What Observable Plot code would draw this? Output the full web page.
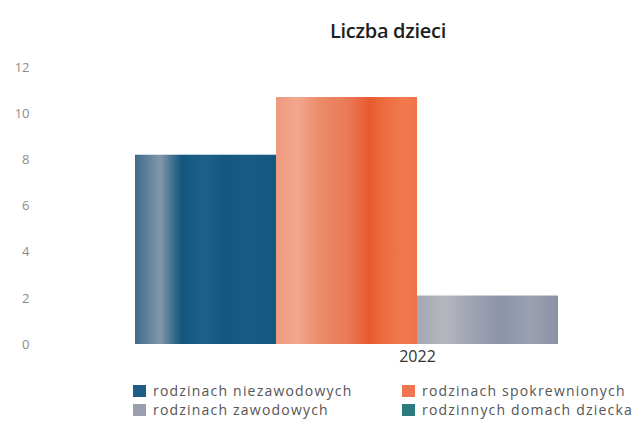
<!DOCTYPE html>
<html>
<head>
<meta charset="utf-8">
<script src="https://cdn.jsdelivr.net/npm/d3@7"></script>
<script src="https://cdn.jsdelivr.net/npm/@observablehq/plot@0.6"></script>
<style>
  html, body { margin: 0; padding: 0; background: #fff; overflow: hidden; }
  #wrap { position: relative; width: 641px; height: 422px; font-family: "Open Sans", sans-serif; }
  #title { position: absolute; left: 330px; top: 17px; font-size: 20px; font-weight: 600; color: #1e1e1e; letter-spacing: -0.3px; line-height: 28px; }
  #chart { position: absolute; left: 0; top: 50px; }
  #legend { position: absolute; left: 0; top: 382px; width: 641px; height: 40px; }
  .item { position: absolute; font-size: 14px; color: #555; white-space: nowrap; line-height: 17px; letter-spacing: 1.2px; }
  .sw { display: inline-block; width: 13px; height: 12px; vertical-align: -1px; margin-right: 7px; }
  #chart g[aria-label="y-axis tick label"] text { fill: #8c8c8c; }
  #chart g[aria-label="fx-axis tick label"] text { fill: #333; }
</style>
</head>
<body>
<div id="wrap">
  <div id="title">Liczba dzieci</div>
  <div id="chart"></div>
  <div id="legend"></div>
</div>
<script>
const years = ["2022"];
const series = ["rodzinach niezawodowych", "rodzinach spokrewnionych", "rodzinach zawodowych", "rodzinnych domach dziecka"];
const values = [8.2, 10.7, 2.1, 0];
const colors = ["#1d5d87", "#ef7450", "#9a9fae", "#2a7a80"];
const yTicks = [0, 2, 4, 6, 8, 10, 12];
const legendOrder = [0, 1, 2, 3];

const gradients = [
  [[0, "#3d6a8a"], [0.08, "#5b7f99"], [0.18, "#8497a8"], [0.27, "#3e6f8f"], [0.33, "#13577f"], [0.5, "#1c6189"], [0.62, "#12587f"], [0.8, "#175c84"], [1, "#14587f"]],
  [[0, "#ee9a80"], [0.15, "#f2a78c"], [0.3, "#ec8c6c"], [0.5, "#ea7a58"], [0.66, "#e85a30"], [0.75, "#ec6a3c"], [0.9, "#f07a4e"], [1, "#ee7448"]],
  [[0, "#a4a8b2"], [0.2, "#b4b7be"], [0.4, "#9ea3b2"], [0.6, "#8d94ab"], [0.8, "#9ba1b1"], [1, "#8b91a7"]],
  [[0, "#2a7b80"], [1, "#2a7b80"]]
];

const data = series.map((s, i) => ({year: years[0], series: s, value: values[i]}));

const chart = Plot.plot({
  width: 641,
  height: 320,
  marginTop: 17,
  marginBottom: 26,
  marginLeft: 135,
  marginRight: 0,
  style: {fontFamily: "Open Sans, sans-serif", fontSize: "13px", background: "transparent", overflow: "visible"},
  fx: {domain: years, range: [135, 699], padding: 0, label: null, axis: "bottom", tickSize: 0, tickPadding: 6},
  x: {domain: series, padding: 0, axis: null},
  y: {domain: [0, 12], ticks: yTicks, tickSize: 0, tickPadding: 106, label: null},
  color: {domain: series, range: series.map((s, i) => `url(#grad${i})`)},
  marks: [
    Plot.barY(data, {fx: "year", x: "series", y: "value", fill: "series"})
  ]
});

// gradient definitions for the bar shading
const ns = "http://www.w3.org/2000/svg";
const defs = document.createElementNS(ns, "defs");
gradients.forEach((stops, i) => {
  const g = document.createElementNS(ns, "linearGradient");
  g.setAttribute("id", `grad${i}`);
  g.setAttribute("x1", "0"); g.setAttribute("x2", "1");
  g.setAttribute("y1", "0"); g.setAttribute("y2", "0");
  stops.forEach(([o, c]) => {
    const s = document.createElementNS(ns, "stop");
    s.setAttribute("offset", o);
    s.setAttribute("stop-color", c);
    g.appendChild(s);
  });
  defs.appendChild(g);
});
chart.insertBefore(defs, chart.firstChild);
document.getElementById("chart").appendChild(chart);

// fx tick label font size
chart.querySelectorAll('g[aria-label="fx-axis tick label"] text').forEach(t => t.setAttribute("font-size", "16px"));

// legend
const legendPos = [[133, 0], [402, 0], [133, 19], [402, 19]];
const legend = document.getElementById("legend");
legendOrder.forEach((idx, k) => {
  const d = document.createElement("div");
  d.className = "item";
  d.style.left = legendPos[k][0] + "px";
  d.style.top = legendPos[k][1] + "px";
  const sw = document.createElement("span");
  sw.className = "sw";
  sw.style.background = colors[idx];
  d.appendChild(sw);
  d.appendChild(document.createTextNode(series[idx]));
  legend.appendChild(d);
});
</script>
</body>
</html>
